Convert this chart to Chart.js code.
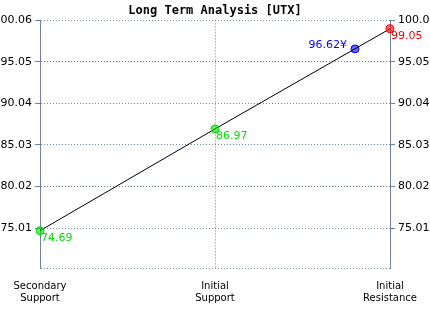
<!DOCTYPE html>
<html>
<head>
<meta charset="utf-8">
<script src="https://cdn.jsdelivr.net/npm/chart.js@4"></script>
<style>
  html, body { margin: 0; padding: 0; background: #fff; }
  #wrap { width: 430px; height: 310px; }
</style>
</head>
<body>
<div id="wrap"><canvas id="myChart" width="430" height="310"></canvas></div>
<script>
var categories = ['Secondary Support', 'Initial Support', 'Initial Resistance'];
var levelValues = [74.69, 86.97, 99.05];
var levelColors = ['#00dd00', '#00dd00', '#ff0000'];
var currentPos = [1.8];
var currentValue = [96.62];
var currentLabel = ['96.62¥'];
var yTicks = [75.01, 80.02, 85.03, 90.04, 95.05, 100.06];
var yMin = 70.19, yMax = 100.06;

var axisColor = '#6f82a8';
var font = { family: 'DejaVu Sans', size: 11 };

function yTickSetup(axis) {
    axis.ticks = [{ value: yMin }].concat(yTicks.map(function (v) { return { value: v }; }));
}
function yTickColor(c) {
    return c.tick && c.tick.value === yMin ? 'rgba(0,0,0,0)' : axisColor;
}

var labelPlugin = {
    id: 'pointLabels',
    afterDatasetsDraw: function (chart) {
        var ctx = chart.ctx;
        ctx.save();
        ctx.font = '11px "DejaVu Sans"';
        var pts = chart.getDatasetMeta(0).data;
        pts.forEach(function (p, i) {
            ctx.fillStyle = levelColors[i];
            ctx.textAlign = 'left';
            ctx.textBaseline = 'top';
            ctx.fillText(levelValues[i].toFixed(2), p.x + 1, p.y + 2);
        });
        var cur = chart.getDatasetMeta(1).data;
        cur.forEach(function (p, i) {
            ctx.fillStyle = '#0000ff';
            ctx.textAlign = 'right';
            ctx.textBaseline = 'bottom';
            ctx.fillText(currentLabel[i], p.x - 8, p.y + 2);
        });
        ctx.restore();
    }
};

var ctx = document.getElementById('myChart').getContext('2d');
var myChart = new Chart(ctx, {
    type: 'scatter',
    data: {
        datasets: [{
            data: levelValues.map(function (v, i) { return { x: i, y: v }; }),
            showLine: true,
            clip: false,
            borderColor: '#000',
            borderWidth: 1,
            pointRadius: 4,
            pointBackgroundColor: levelColors.map(function (c) { return c + '99'; }),
            pointBorderColor: levelColors,
            pointBorderWidth: 1
        }, {
            data: currentPos.map(function (x, i) { return { x: x, y: currentValue[i] }; }),
            clip: false,
            pointRadius: 4,
            pointBackgroundColor: '#0000ff99',
            pointBorderColor: '#0000ff',
            pointBorderWidth: 1
        }]
    },
    options: {
        responsive: false,
        animation: false,
        layout: { padding: { top: 0, bottom: 0, left: 0, right: 0 } },
        plugins: {
            legend: { display: false },
            tooltip: { enabled: false },
            title: {
                display: true,
                text: 'Long Term Analysis [UTX]',
                color: '#000',
                font: { family: 'DejaVu Sans Mono', size: 12, weight: 'bold' },
                padding: { top: 4, bottom: 2 }
            }
        },
        scales: {
            x: {
                type: 'linear',
                min: 0,
                max: 2,
                afterBuildTicks: function (axis) {
                    axis.ticks = [{ value: 0 }, { value: 1 }, { value: 2 }];
                },
                afterFit: function (axis) { axis.height = 42; },
                ticks: {
                    color: '#000',
                    font: { family: 'DejaVu Sans', size: 10 },
                    padding: 12,
                    maxRotation: 0,
                    autoSkip: false,
                    callback: function (v) { return categories[v].split(' '); }
                },
                grid: {
                    drawTicks: false,
                    color: function (c) { return c.tick && c.tick.value === 1 ? axisColor : 'rgba(0,0,0,0)'; }
                },
                border: { display: false, dash: [1, 2] }
            },
            y: {
                position: 'left',
                min: yMin,
                max: yMax,
                afterBuildTicks: yTickSetup,
                afterFit: function (axis) { axis.width = 40; },
                ticks: {
                    color: '#000',
                    font: font,
                    padding: 3,
                    callback: function (v) { return v === yMin ? '' : v.toFixed(2); }
                },
                grid: { color: axisColor, tickColor: yTickColor, tickLength: 5 },
                border: { display: true, color: axisColor, dash: [1, 2] }
            },
            y2: {
                position: 'right',
                min: yMin,
                max: yMax,
                afterBuildTicks: yTickSetup,
                afterFit: function (axis) { axis.width = 40; },
                ticks: {
                    color: '#000',
                    font: font,
                    padding: 3,
                    callback: function (v) { return v === yMin ? '' : v.toFixed(2); }
                },
                grid: { drawOnChartArea: false, tickColor: yTickColor, tickLength: 5 },
                border: { display: true, color: axisColor }
            }
        }
    },
    plugins: [labelPlugin]
});
</script>
</body>
</html>
